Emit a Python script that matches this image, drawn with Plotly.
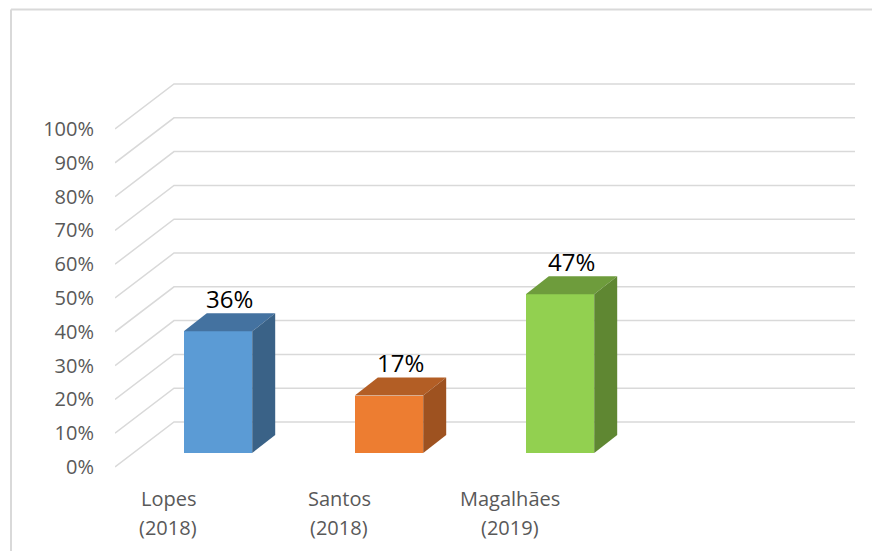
import plotly.graph_objects as go

# ---- data ----
categories = ["Lopes", "Santos", "Magalhães"]
years = ["(2018)", "(2018)", "(2019)"]
values = [0.36, 0.17, 0.47]
value_labels = ["36%", "17%", "47%"]
tick_values = [i / 10 for i in range(11)]
tick_labels = [f"{i * 10}%" for i in range(11)]

# ---- styles ----
front_colors = ["#5B9BD5", "#ED7D31", "#92D050"]
top_colors = ["#4472A0", "#B35E25", "#6E9C3C"]
side_colors = ["#3A6287", "#9E5220", "#5F8732"]
grid_color = "#D9D9D9"
text_gray = "#595959"
FONT = "Open Sans"

# geometry (pseudo-3D offsets in axis units)
BAR_W = 0.40
BASE = 0.0414           # bar plane lifted over front plane
DEPTH_X, DEPTH_Y = 0.1345, 0.0533   # bar depth
WALL_X, WALL_Y = 0.345, 0.1331      # back wall offset
X_RANGE = [-0.6023, 3.7251]
Y_RANGE = [-0.03846, 1.20414]

fig = go.Figure()

fig.add_trace(go.Bar(
    x=list(range(len(categories))), y=values, base=[BASE] * len(values),
    width=BAR_W, marker=dict(color=front_colors, line=dict(width=0)),
    hoverinfo="skip", showlegend=False,
))

shapes = []
# back-wall gridlines with diagonal floor/side lines
xl = X_RANGE[0]
for v in tick_values:
    shapes.append(dict(
        type="path", xref="x", yref="y", layer="below",
        path=f"M {xl},{v} L {xl + WALL_X},{v + WALL_Y} L {X_RANGE[1]},{v + WALL_Y}",
        line=dict(color=grid_color, width=1.5),
    ))

# 3D faces of bars
for i, v in enumerate(values):
    x0, x1 = i - BAR_W / 2, i + BAR_W / 2
    yb, yt = BASE, BASE + v
    shapes.append(dict(
        type="path", xref="x", yref="y", layer="above",
        path=(f"M {x0},{yt} L {x0 + DEPTH_X},{yt + DEPTH_Y} "
              f"L {x1 + DEPTH_X},{yt + DEPTH_Y} L {x1},{yt} Z"),
        fillcolor=top_colors[i], line=dict(width=0),
    ))
    shapes.append(dict(
        type="path", xref="x", yref="y", layer="above",
        path=(f"M {x1},{yb} L {x1 + DEPTH_X},{yb + DEPTH_Y} "
              f"L {x1 + DEPTH_X},{yt + DEPTH_Y} L {x1},{yt} Z"),
        fillcolor=side_colors[i], line=dict(width=0),
    ))

# chart border (top & left visible)
BORDER_TOP = (480 - 9.5) / 420
BORDER_LEFT = (11 - 115) / 740
shapes.append(dict(type="line", xref="paper", yref="paper",
                   x0=BORDER_LEFT, x1=(880 - 115) / 740, y0=BORDER_TOP, y1=BORDER_TOP,
                   line=dict(color="#D9D9D9", width=2)))
shapes.append(dict(type="line", xref="paper", yref="paper",
                   x0=BORDER_LEFT, x1=BORDER_LEFT, y0=-80 / 420, y1=BORDER_TOP,
                   line=dict(color="#D9D9D9", width=2)))

annotations = []
for i, v in enumerate(values):
    annotations.append(dict(
        x=i + DEPTH_X / 2, y=BASE + v + DEPTH_Y, xref="x", yref="y",
        text=value_labels[i], showarrow=False, yanchor="middle", yshift=15,
        font=dict(family=FONT, size=24, color="#000000"),
    ))
    annotations.append(dict(
        x=i - 0.29, y=(480 - 498) / 420, xref="x", yref="paper",
        text=categories[i], showarrow=False, yanchor="middle",
        font=dict(family=FONT, size=20, color=text_gray),
    ))
    annotations.append(dict(
        x=i - 0.29, y=(480 - 527) / 420, xref="x", yref="paper",
        text=years[i], showarrow=False, yanchor="middle",
        font=dict(family=FONT, size=20, color=text_gray),
    ))

fig.update_layout(
    width=872, height=551,
    margin=dict(l=115, r=17, t=60, b=71),
    paper_bgcolor="white", plot_bgcolor="white",
    shapes=shapes, annotations=annotations,
    xaxis=dict(range=X_RANGE, showgrid=False, zeroline=False, showline=False,
               showticklabels=False, fixedrange=True),
    yaxis=dict(range=Y_RANGE, showgrid=False, zeroline=False, showline=False,
               tickvals=tick_values, ticktext=tick_labels, ticks="",
               ticklabelstandoff=20,
               tickfont=dict(family=FONT, size=20, color=text_gray)),
    bargap=0,
)

fig.write_html("out.html")
